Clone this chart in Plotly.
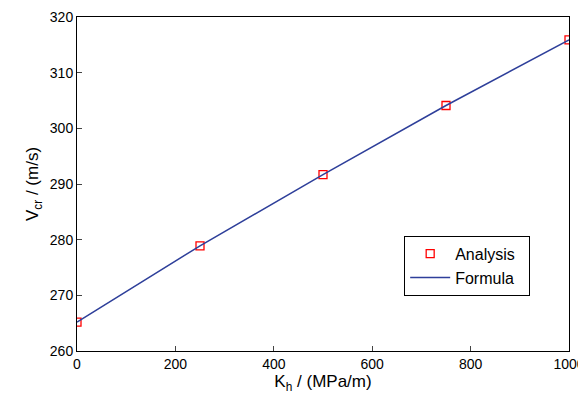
import plotly.graph_objects as go

kh = [0, 250, 500, 750, 1000]
v_analysis = [265.2, 278.9, 291.7, 304.1, 315.9]
v_formula = [265.2, 278.9, 291.7, 304.1, 315.9]

fig = go.Figure()
fig.add_trace(go.Scatter(x=kh, y=v_analysis, mode="markers", name="Analysis  ",
    marker=dict(symbol="square-open", color="red", size=8, line=dict(width=1.3))))
fig.add_trace(go.Scatter(x=kh, y=v_formula, mode="lines", name="Formula  ",
    line=dict(color="#2e3f9a", width=1.5)))

ax = dict(showline=True, mirror=True, linecolor="black", linewidth=1, ticks="inside",
          ticklen=5, showgrid=False, zeroline=False, automargin=False,
          tickfont=dict(size=14, color="black"))
fig.update_layout(
    width=586, height=403, plot_bgcolor="white", paper_bgcolor="white",
    font=dict(family="Liberation Sans, Arial", size=14, color="black"),
    margin=dict(l=69, r=25, t=9, b=60),
    xaxis=dict(range=[0, 1000], dtick=200, title=dict(text="K<sub>h</sub> / (MPa/m)", standoff=4), **ax),
    yaxis=dict(range=[260, 320], dtick=10, title=dict(text="V<sub>cr</sub> / (m/s)", standoff=6), **ax),
    legend=dict(x=0.665, y=0.345, xanchor="left", yanchor="top", bordercolor="black",
                borderwidth=1, bgcolor="white", font=dict(size=16), itemwidth=40),
)
fig.write_html("out.html")
